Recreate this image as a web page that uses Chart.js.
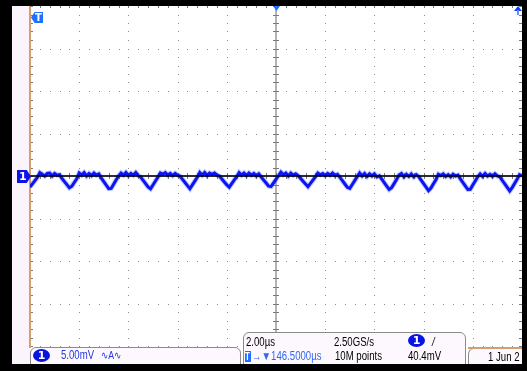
<!DOCTYPE html>
<html>
<head>
<meta charset="utf-8">
<script src="https://cdn.jsdelivr.net/npm/chart.js@4"></script>
<style>
  html, body { margin: 0; padding: 0; background: #000; }
  #wrap { position: relative; width: 527px; height: 371px; overflow: hidden; }
  #scope { position: absolute; left: 0; top: 0; }
  .ov { position: absolute; font-family: "Liberation Sans", Arial, sans-serif; font-size: 12px; line-height: 13px; white-space: nowrap; transform: scaleX(0.8); transform-origin: 0 0; }
  .box { position: absolute; background: #fdf8fd; border: 1px solid #8a8a8a; border-radius: 6px; }
  .chip { position: absolute; background: #0814e0; color: #fff; border-radius: 50%; text-align: center; font-family: "DejaVu Sans", sans-serif; font-weight: bold; font-size: 11px; }
</style>
</head>
<body>
<div id="wrap">
  <canvas id="scope" width="527" height="371"></canvas>

  <!-- channel / trigger markers -->
  <div style="position:absolute;left:17px;top:170px;width:14px;height:13px;background:#0a14e8;clip-path:polygon(0 0,70% 0,100% 50%,70% 100%,0 100%);"></div>
  <div class="ov" style="left:19px;top:170px;color:#fff;font-family:'DejaVu Sans',sans-serif;font-weight:bold;font-size:11px;transform:none;">1</div>
  <div style="position:absolute;left:31px;top:12px;width:12px;height:11px;background:#2070ff;clip-path:polygon(0 50%,30% 0,100% 0,100% 100%,30% 100%);"></div>
  <div class="ov" style="left:35px;top:11px;color:#fff;font-family:'DejaVu Sans',sans-serif;font-weight:bold;font-size:10px;transform:none;">T</div>
  <div style="position:absolute;left:273px;top:6px;width:7px;height:5px;background:#2070ff;clip-path:polygon(0 0,100% 0,50% 100%);"></div>
  <div style="position:absolute;left:514px;top:6px;width:8px;height:5px;background:#1040ff;clip-path:polygon(50% 0,100% 100%,0 100%);"></div>
  <div style="position:absolute;left:517px;top:10px;width:2px;height:5px;background:#6090ff;"></div>

  <!-- status bar -->
  <div class="box" style="left:30px;top:347px;width:209px;height:22px;"></div>
  <div class="chip" style="left:33px;top:349px;width:17px;height:13px;line-height:13px;">1</div>
  <div class="ov" style="left:61px;top:349px;color:#2438e0;">5.00mV</div>
  <div class="ov" style="left:101px;top:349px;color:#2438e0;font-size:11px;">∿A∿</div>

  <div class="box" style="left:243px;top:332px;width:221px;height:36px;"></div>
  <div class="ov" style="left:246px;top:336px;color:#000;">2.00µs</div>
  <div class="ov" style="left:334px;top:336px;color:#000;">2.50GS/s</div>
  <div class="chip" style="left:408px;top:334px;width:17px;height:13px;line-height:13px;">1</div>
  <div class="ov" style="left:432px;top:336px;color:#000;font-style:italic;">/</div>
  <div style="position:absolute;left:245px;top:351px;width:6px;height:11px;background:#2070ff;"></div>
  <div class="ov" style="left:245px;top:350px;color:#fff;font-size:10px;font-weight:bold;">T</div>
  <div class="ov" style="left:252px;top:350px;color:#3068f0;">→▼146.5000µs</div>
  <div class="ov" style="left:335px;top:350px;color:#000;">10M points</div>
  <div class="ov" style="left:408px;top:350px;color:#000;">40.4mV</div>

  <div class="box" style="left:468px;top:348px;width:70px;height:22px;border-top-color:#d2a070;"></div>
  <div class="ov" style="left:488px;top:351px;color:#000;">1 Jun  2</div>

  <div style="position:absolute;left:0;top:364px;width:527px;height:7px;background:#000;"></div>
  <div style="position:absolute;left:522px;top:0;width:5px;height:371px;background:#000;"></div>
</div>

<script>
// horizontal: 2 us/div, vertical: 5 mV/div
const timeStart = -10;      // us, left edge of record shown
const sampleStep = 0.1;     // us between samples
const xTicks = [-10, -8, -6, -4, -2, 0, 2, 4, 6, 8, 10];
const yTicks = [-20, -15, -10, -5, 0, 5, 10, 15, 20];
const groundLevel = 0;      // mV, channel 1 marker

// channel 1 trace in mV, every 0.1 us from -10 us to +10 us
const ch1 = [
  -1.3, -0.92, -0.54, -0.16, 0.4, 0.2, 0.0, 0.3, 0.35, 0.0,
  0.3, 0.1, 0.15, -0.29, -0.66, -1.02, -1.39, -1.2, -0.76, -0.33,
  0.35, 0.1, 0.4, 0.0, 0.3, 0.05, 0.35, 0.1, 0.25, -0.26,
  -0.67, -1.08, -1.49, -1.46, -0.97, -0.48, 0.0, 0.35, 0.1, 0.4,
  0.05, 0.3, 0.1, 0.4, 0.05, -0.12, -0.51, -0.9, -1.29, -1.51,
  -1.05, -0.59, -0.13, 0.35, 0.2, 0.4, 0.1, 0.3, 0.05, 0.3,
  0.1, -0.03, -0.4, -0.77, -1.13, -1.5, -1.05, -0.61, -0.16, 0.4,
  0.1, 0.4, 0.05, 0.35, 0.2, 0.35, 0.1, -0.01, -0.35, -0.7,
  -1.04, -1.31, -0.9, -0.49, -0.09, 0.4, 0.1, 0.35, 0.05, 0.35,
  0.1, 0.3, 0.0, 0.25, -0.12, -0.48, -0.83, -1.19, -1.23, -0.81,
  -0.39, 0.03, 0.45, 0.15, 0.35, 0.0, 0.35, 0.1, 0.25, 0.04,
  -0.28, -0.61, -0.93, -1.25, -0.87, -0.49, -0.11, 0.35, 0.15, 0.3,
  0.05, 0.3, 0.1, 0.35, 0.05, 0.2, -0.16, -0.55, -0.94, -1.33,
  -1.46, -1.0, -0.54, -0.08, 0.35, 0.0, 0.3, -0.05, 0.25, 0.0,
  0.25, -0.1, 0.02, -0.38, -0.78, -1.18, -1.58, -1.37, -0.9, -0.42,
  0.1, 0.3, -0.1, 0.2, -0.05, 0.25, -0.1, 0.15, -0.07, -0.48,
  -0.9, -1.31, -1.72, -1.41, -0.92, -0.44, 0.2, 0.05, 0.25, -0.05,
  0.15, -0.1, 0.2, 0.0, 0.1, -0.36, -0.77, -1.18, -1.59, -1.56,
  -1.07, -0.58, -0.1, 0.25, -0.05, 0.3, 0.0, 0.2, -0.05, 0.25,
  0.0, -0.11, -0.53, -0.94, -1.35, -1.76, -1.36, -0.87, -0.38, 0.15,
  0.0
];

const tracePoints = ch1.map((v, i) => ({ x: timeStart + i * sampleStep, y: v }));
const groundLine = [{ x: xTicks[0], y: groundLevel }, { x: xTicks[xTicks.length - 1], y: groundLevel }];

// screen background + graticule, drawn behind the trace
const screenPlugin = {
  id: 'screen',
  beforeDraw(chart) {
    const ctx = chart.ctx;
    ctx.save();
    ctx.fillStyle = '#000';
    ctx.fillRect(0, 0, chart.width, chart.height);
    ctx.fillStyle = '#ffffff';
    ctx.fillRect(12, 6, 510, 358);
    ctx.fillStyle = '#fcf4fc';
    ctx.fillRect(12, 6, 18, 358);
    ctx.restore();
  },
  beforeDatasetsDraw(chart) {
    const ctx = chart.ctx;
    const xs = chart.scales.x, ys = chart.scales.y;
    const a = chart.chartArea;
    const xMinor = (xTicks[1] - xTicks[0]) / 5;
    const yMinor = (yTicks[1] - yTicks[0]) / 5;
    ctx.save();
    // dotted major lines
    ctx.fillStyle = '#8c8c8c';
    xTicks.forEach(t => {
      if (t === 0) return;
      const px = Math.round(xs.getPixelForValue(t));
      for (let v = yTicks[0]; v <= yTicks[yTicks.length - 1] + 1e-6; v += yMinor) {
        ctx.fillRect(px, Math.round(ys.getPixelForValue(v)), 1, 1);
      }
    });
    yTicks.forEach(t => {
      if (t === 0) return;
      const py = Math.round(ys.getPixelForValue(t));
      for (let v = xTicks[0]; v <= xTicks[xTicks.length - 1] + 1e-6; v += xMinor) {
        ctx.fillRect(Math.round(xs.getPixelForValue(v)), py, 1, 1);
      }
    });
    // centre cross with ticks
    const cx = Math.round(xs.getPixelForValue(0));
    const cy = Math.round(ys.getPixelForValue(0));
    ctx.fillStyle = '#b4b4b4';
    ctx.fillRect(cx - 1, a.top, 2, a.bottom - a.top);
    ctx.fillRect(a.left, cy - 1, a.right - a.left, 2);
    ctx.fillStyle = '#7a7a7a';
    for (let v = yTicks[0]; v <= yTicks[yTicks.length - 1] + 1e-6; v += yMinor) {
      const py = Math.round(ys.getPixelForValue(v));
      ctx.fillRect(cx - 3, py, 6, 1);
      ctx.fillRect(a.right - 3, py, 3, 1);
      ctx.fillRect(a.left, py, 3, 1);
    }
    for (let v = xTicks[0]; v <= xTicks[xTicks.length - 1] + 1e-6; v += xMinor) {
      const px = Math.round(xs.getPixelForValue(v));
      ctx.fillRect(px, cy - 3, 1, 6);
      ctx.fillRect(px, a.top, 1, 2);
    }
    // left edge and date-box edge in tan
    ctx.fillStyle = '#d2a070';
    ctx.fillRect(a.left - 1, a.top, 2, a.bottom - a.top + 2);
    ctx.fillRect(468, a.bottom + 1, a.right - 468, 2);
    ctx.restore();
  }
};

const config = {
  type: 'line',
  data: {
    datasets: [{
      label: 'CH1 glow',
      data: tracePoints,
      borderColor: 'rgba(40, 70, 255, 0.3)',
      borderWidth: 5,
      pointRadius: 0,
      tension: 0,
      order: 3
    }, {
      label: 'CH1',
      data: tracePoints,
      borderColor: '#0c14f2',
      borderWidth: 3,
      pointRadius: 0,
      tension: 0,
      order: 2
    }, {
      label: 'ground',
      data: groundLine,
      borderColor: '#000',
      borderWidth: 1.5,
      pointRadius: 0,
      order: 1
    }]
  },
  options: {
    responsive: false,
    animation: false,
    layout: { padding: { left: 30, right: 5, top: 6, bottom: 25 } },
    plugins: { legend: { display: false }, tooltip: { enabled: false } },
    scales: {
      x: { type: 'linear', min: xTicks[0], max: xTicks[xTicks.length - 1], display: false },
      y: { type: 'linear', min: yTicks[0], max: yTicks[yTicks.length - 1], display: false }
    }
  },
  plugins: [screenPlugin]
};

new Chart(document.getElementById('scope'), config);
</script>
</body>
</html>
